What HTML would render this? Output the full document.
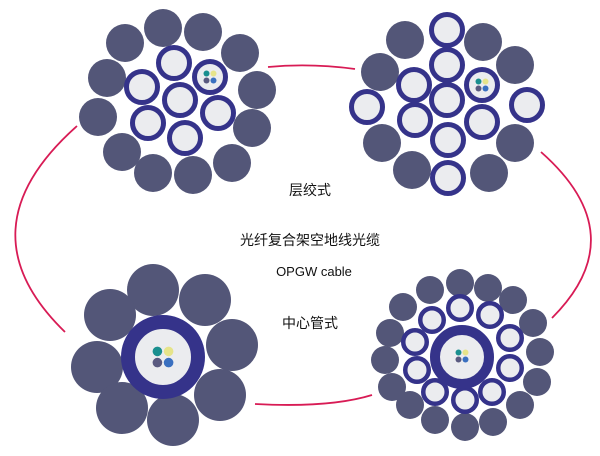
<!DOCTYPE html>
<html><head><meta charset="utf-8"><style>
html,body{margin:0;padding:0;background:#fff;width:600px;height:456px;overflow:hidden}
svg{display:block}
text{font-family:"Liberation Sans","Noto Sans CJK SC",sans-serif;fill:#111}
</style></head><body>
<svg width="600" height="456" viewBox="0 0 600 456" xmlns="http://www.w3.org/2000/svg">
<defs>
<g id="f"><circle cx="-3.5" cy="-3.5" r="3" fill="#1a8f8f"/><circle cx="3.5" cy="-3.5" r="3" fill="#e6e48a"/><circle cx="-3.5" cy="3.5" r="3" fill="#5a5a80"/><circle cx="3.5" cy="3.5" r="3" fill="#3a70c0"/></g>
</defs>
<g fill="none" stroke="#d81b55" stroke-width="1.8">
<path d="M77,126 Q-40,230 65,332"/>
<path d="M541,152 Q635,235 552,318"/>
<path d="M268,67 Q310,63 355,69"/>
<path d="M255,404 Q330,408 372,395"/>
</g>
<!-- top-left -->
<g fill="#535678">
<circle cx="163" cy="28" r="19"/><circle cx="203" cy="32" r="19"/><circle cx="240" cy="53" r="19"/><circle cx="257" cy="90" r="19"/><circle cx="252" cy="128" r="19"/><circle cx="232" cy="163" r="19"/><circle cx="193" cy="175" r="19"/><circle cx="153" cy="173" r="19"/><circle cx="122" cy="152" r="19"/><circle cx="98" cy="117" r="19"/><circle cx="107" cy="78" r="19"/><circle cx="125" cy="43" r="19"/>
</g>
<g fill="#ebecef" stroke="#35338a" stroke-width="5">
<circle cx="180" cy="100" r="15.5"/><circle cx="174" cy="63" r="15.5"/><circle cx="210" cy="77" r="15.5"/><circle cx="142" cy="87" r="15.5"/><circle cx="218" cy="113" r="15.5"/><circle cx="148" cy="123" r="15.5"/><circle cx="185" cy="138" r="15.5"/>
</g>
<use href="#f" x="210" y="77"/>
<!-- top-right -->
<g fill="#535678">
<circle cx="405" cy="40" r="19"/><circle cx="483" cy="42" r="19"/><circle cx="380" cy="72" r="19"/><circle cx="515" cy="65" r="19"/><circle cx="382" cy="143" r="19"/><circle cx="515" cy="143" r="19"/><circle cx="412" cy="170" r="19"/><circle cx="489" cy="173" r="19"/>
</g>
<g fill="#ebecef" stroke="#35338a" stroke-width="5">
<circle cx="447" cy="100" r="15.5"/><circle cx="447" cy="30" r="15.5"/><circle cx="447" cy="65" r="15.5"/><circle cx="414" cy="85" r="15.5"/><circle cx="482" cy="85" r="15.5"/><circle cx="367" cy="107" r="15.5"/><circle cx="527" cy="105" r="15.5"/><circle cx="415" cy="120" r="15.5"/><circle cx="482" cy="122" r="15.5"/><circle cx="448" cy="140" r="15.5"/><circle cx="448" cy="178" r="15.5"/>
</g>
<use href="#f" x="482" y="85"/>
<!-- bottom-left -->
<g fill="#535678">
<circle cx="153" cy="290" r="26"/><circle cx="205" cy="300" r="26"/><circle cx="110" cy="315" r="26"/><circle cx="232" cy="345" r="26"/><circle cx="97" cy="367" r="26"/><circle cx="220" cy="395" r="26"/><circle cx="122" cy="408" r="26"/><circle cx="173" cy="420" r="26"/>
</g>
<circle cx="163" cy="357" r="35" fill="#ebecef" stroke="#35338a" stroke-width="14"/>
<g transform="translate(163,357) scale(1.6)"><use href="#f"/></g>
<!-- bottom-right -->
<g fill="#535678">
<circle cx="430" cy="290" r="14"/><circle cx="460" cy="283" r="14"/><circle cx="488" cy="288" r="14"/><circle cx="513" cy="300" r="14"/><circle cx="533" cy="323" r="14"/><circle cx="540" cy="352" r="14"/><circle cx="537" cy="382" r="14"/><circle cx="520" cy="405" r="14"/><circle cx="493" cy="422" r="14"/><circle cx="465" cy="427" r="14"/><circle cx="435" cy="420" r="14"/><circle cx="410" cy="405" r="14"/><circle cx="392" cy="387" r="14"/><circle cx="385" cy="360" r="14"/><circle cx="390" cy="333" r="14"/><circle cx="403" cy="307" r="14"/>
</g>
<g fill="#ebecef" stroke="#35338a" stroke-width="4.5">
<circle cx="460" cy="308" r="11.75"/><circle cx="490" cy="315" r="11.75"/><circle cx="510" cy="338" r="11.75"/><circle cx="510" cy="368" r="11.75"/><circle cx="492" cy="392" r="11.75"/><circle cx="465" cy="400" r="11.75"/><circle cx="435" cy="392" r="11.75"/><circle cx="417" cy="370" r="11.75"/><circle cx="415" cy="342" r="11.75"/><circle cx="432" cy="320" r="11.75"/>
</g>
<circle cx="462" cy="357" r="27" fill="#ebecef" stroke="#35338a" stroke-width="10"/>
<use href="#f" x="462" y="356"/>
<!-- text -->
<text x="310" y="195" font-size="14" text-anchor="middle">层绞式</text>
<text x="310" y="245" font-size="14" text-anchor="middle">光纤复合架空地线光缆</text>
<text x="314" y="276" font-size="13" text-anchor="middle">OPGW  cable</text>
<text x="310" y="328" font-size="14" text-anchor="middle">中心管式</text>
</svg>
</body></html>
